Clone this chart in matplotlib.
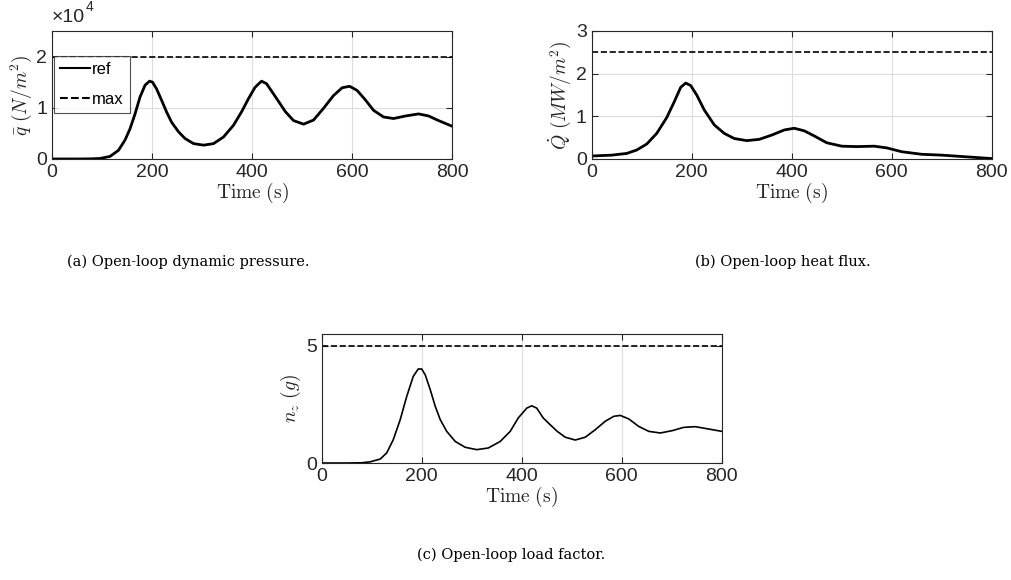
import numpy as np
import matplotlib.pyplot as plt

plt.rcParams['font.family'] = ['Liberation Sans', 'DejaVu Sans']
plt.rcParams['mathtext.fontset'] = 'cm'

# Donnees
t_q = [0, 50, 80, 96, 116, 133, 146, 156, 166, 176, 186, 195, 201, 209, 219, 229, 239, 253,
       266, 283, 303, 323, 343, 363, 379, 393, 406, 419, 429, 443, 456, 467, 483, 503,
       523, 543, 563, 580, 595, 610, 627, 643, 663, 683, 707, 733, 753, 773, 800]
q_bar = [0, 0, 0.003, 0.01, 0.05, 0.17, 0.37, 0.59, 0.88, 1.21, 1.44, 1.52, 1.50, 1.37, 1.15,
         0.92, 0.72, 0.53, 0.40, 0.30, 0.27, 0.30, 0.43, 0.66, 0.92, 1.18, 1.40, 1.52, 1.47,
         1.27, 1.08, 0.92, 0.75, 0.68, 0.76, 0.99, 1.24, 1.39, 1.42, 1.34, 1.15, 0.95, 0.82,
         0.79, 0.84, 0.88, 0.84, 0.75, 0.64]
q_bar = [v*1e4 for v in q_bar]
q_max = 2e4

t_Q = [0, 40, 70, 90, 110, 130, 150, 165, 178, 188, 198, 210, 225, 245, 265, 285, 310,
       335, 360, 385, 405, 425, 445, 470, 500, 530, 565, 590, 620, 660, 700, 750, 800]
Q_dot = [0.07, 0.09, 0.13, 0.21, 0.35, 0.60, 0.97, 1.34, 1.68, 1.78, 1.72, 1.50, 1.15, 0.80,
         0.60, 0.48, 0.43, 0.46, 0.56, 0.68, 0.72, 0.66, 0.54, 0.38, 0.30, 0.29, 0.30, 0.26,
         0.17, 0.11, 0.09, 0.05, 0.01]
Q_max = 2.5

t_n = [0, 50, 80, 97, 117, 130, 143, 157, 170, 183, 193, 200, 207, 217, 227, 237, 250, 267,
       287, 310, 333, 357, 377, 393, 410, 420, 430, 443, 457, 471, 487, 507, 527, 547,
       567, 584, 597, 614, 634, 654, 677, 701, 724, 747, 771, 800]
n_z = [0, 0, 0.01, 0.05, 0.17, 0.43, 0.99, 1.85, 2.84, 3.69, 4.01, 4.01, 3.76, 3.13, 2.42,
       1.85, 1.35, 0.92, 0.67, 0.57, 0.64, 0.92, 1.35, 1.92, 2.34, 2.44, 2.34, 1.92, 1.63,
       1.35, 1.10, 0.98, 1.10, 1.42, 1.78, 1.99, 2.03, 1.88, 1.56, 1.35, 1.28, 1.38, 1.52,
       1.55, 1.46, 1.35]
n_max = 5

xticks = [0, 200, 400, 600, 800]

fig = plt.figure(figsize=(10.12, 5.8), dpi=100)
ax1 = fig.add_axes([0.0514, 0.7259, 0.3953, 0.2207])
ax2 = fig.add_axes([0.5847, 0.7259, 0.3953, 0.2207])
ax3 = fig.add_axes([0.3179, 0.2017, 0.3953, 0.2224])

def style(ax):
    ax.set_xlim(0, 800)
    ax.set_xticks(xticks)
    ax.grid(True, color='#dcdcdc', lw=0.8)
    ax.set_axisbelow(True)
    ax.tick_params(direction='in', top=True, right=True, labelsize=14, colors='#262626', length=4)
    for s in ax.spines.values():
        s.set_color('#262626')
    ax.set_xlabel(r'$\mathrm{Time\ (s)}$', fontsize=14, color='#262626', labelpad=0)

# (a) pression dynamique
ax1.plot(t_q, q_bar, color='k', lw=2, label='ref', solid_joinstyle='round')
ax1.axhline(q_max, color='k', ls='--', lw=1.2, label='max')
style(ax1)
ax1.set_ylim(0, 2.5e4)
ax1.set_yticks([0, 1e4, 2e4])
ax1.set_yticklabels(['0', '1', '2'])
t1 = ax1.text(0.0, 1.035, '×10', transform=ax1.transAxes, fontsize=14, color='#262626',
              ha='left', va='bottom')
ax1.annotate('4', xy=(1, 0.75), xycoords=t1, fontsize=10, color='#262626', ha='left', va='bottom')
ax1.set_ylabel(r'$\bar{q}\ (N/m^2)$', fontsize=14, color='#262626', labelpad=2)
leg = ax1.legend(loc='upper left', bbox_to_anchor=(0.005, 0.805), fontsize=12, frameon=True,
                 fancybox=False, edgecolor='#262626', handlelength=1.8, handletextpad=0.15,
                 borderpad=0.35, labelspacing=0.9, borderaxespad=0)
leg.get_frame().set_linewidth(0.8)
for h in leg.get_lines():
    h.set_linewidth(1.5)

# (b) flux thermique
ax2.plot(t_Q, Q_dot, color='k', lw=2, solid_joinstyle='round')
ax2.axhline(Q_max, color='k', ls='--', lw=1.2)
style(ax2)
ax2.set_ylim(0, 3)
ax2.set_yticks([0, 1, 2, 3])
ax2.set_ylabel(r'$\dot{Q}\ (MW/m^2)$', fontsize=14, color='#262626', labelpad=2)

# (c) facteur de charge
ax3.plot(t_n, n_z, color='k', lw=1.2, solid_joinstyle='round')
ax3.axhline(n_max, color='k', ls='--', lw=1.2)
style(ax3)
ax3.set_ylim(0, 5.5)
ax3.set_yticks([0, 5])
ax3.set_ylabel(r'$n_z\ (g)$', fontsize=14, color='#262626', labelpad=2)

cap = dict(fontsize=10.5, family='DejaVu Serif', ha='center', va='center')
fig.text(188/1012, 1 - 262/580, '(a) Open-loop dynamic pressure.', **cap)
fig.text(783/1012, 1 - 262/580, '(b) Open-loop heat flux.', **cap)
fig.text(511/1012, 1 - 555/580, '(c) Open-loop load factor.', **cap)

fig.savefig('out.png', dpi=100)
